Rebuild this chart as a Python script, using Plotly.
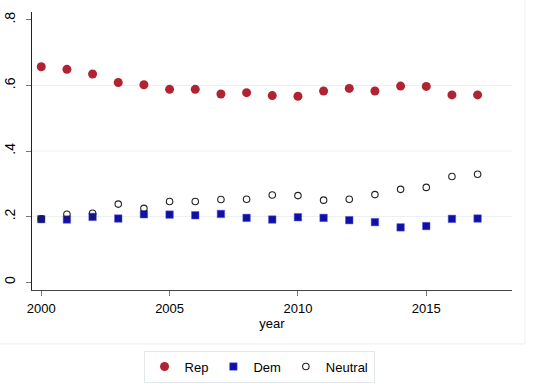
import plotly.graph_objects as go

years = list(range(2000, 2018))
rep = [0.657, 0.649, 0.635, 0.609, 0.602, 0.588, 0.588, 0.574, 0.578,
       0.569, 0.567, 0.583, 0.591, 0.583, 0.598, 0.597, 0.571, 0.571]
dem = [0.192, 0.191, 0.199, 0.194, 0.207, 0.206, 0.204, 0.208, 0.196,
       0.191, 0.198, 0.196, 0.189, 0.183, 0.167, 0.171, 0.193, 0.194]
neutral = [0.193, 0.207, 0.210, 0.238, 0.225, 0.246, 0.246, 0.252, 0.253,
           0.266, 0.264, 0.250, 0.253, 0.267, 0.283, 0.289, 0.322, 0.329]

y_ticks = [0, 0.2, 0.4, 0.6, 0.8]
y_labels = ["0", ".2", ".4", ".6", ".8"]
x_ticks = [2000, 2005, 2010, 2015]
grid_vals = [0.2, 0.4, 0.6]

FONT = "Liberation Sans, Arial, Helvetica, sans-serif"

fig = go.Figure()
fig.add_trace(go.Scatter(x=years, y=rep, mode="markers", name="Rep",
                         marker=dict(symbol="circle", size=9, color="#B02432",
                                     line=dict(width=0))))
fig.add_trace(go.Scatter(x=years, y=dem, mode="markers", name="Dem",
                         marker=dict(symbol="square", size=7.5, color="#1010A8",
                                     line=dict(width=0.5, color="#5A5AD0"))))
fig.add_trace(go.Scatter(x=years, y=neutral, mode="markers", name="Neutral",
                         marker=dict(symbol="circle-open", size=6.5, color="#222222",
                                     line=dict(width=1.1, color="#222222"))))

shapes = []
for g in grid_vals:
    shapes.append(dict(type="line", xref="paper", yref="y", x0=0, x1=1, y0=g, y1=g,
                       line=dict(color="#EAF1F2", width=1), layer="below"))
# outer frame lines
shapes.append(dict(type="line", xref="paper", yref="paper", x0=1.027, x1=1.027,
                   y0=-0.194, y1=1.05, line=dict(color="#EBEFF0", width=1)))
shapes.append(dict(type="line", xref="paper", yref="paper", x0=-0.07, x1=1.027,
                   y0=-0.194, y1=-0.194, line=dict(color="#EBEFF0", width=1)))

fig.update_layout(
    width=533, height=384,
    margin=dict(l=32, r=21, t=12, b=94, autoexpand=False),
    paper_bgcolor="white", plot_bgcolor="white",
    font=dict(family=FONT, size=13, color="black"),
    showlegend=True,
    legend=dict(orientation="h", x=0.473, xanchor="center", y=-0.218, yanchor="top",
                bordercolor="#E3E9EA", borderwidth=1, font=dict(size=13),
                itemwidth=30, tracegroupgap=0),
    shapes=shapes,
    xaxis=dict(range=[1999.64, 2018.34], tickvals=x_ticks, showgrid=False,
               zeroline=False, showline=True, linecolor="#444444", linewidth=1,
               ticks="outside", ticklen=5, tickcolor="#777777", automargin=False,
               ticklabelstandoff=1,
               title=dict(text="year", standoff=3, font=dict(size=13))),
    yaxis=dict(range=[-0.024, 0.824], tickvals=y_ticks, ticktext=y_labels,
               tickangle=-90, showgrid=False, zeroline=False, showline=True,
               linecolor="#222222", linewidth=1, ticks="outside", ticklen=5,
               tickcolor="#777777", automargin=False, tickfont=dict(size=14),
               ticklabelstandoff=5),
)

fig.write_html("out.html", config={"displayModeBar": False},
               post_script="document.body.style.margin='0';document.body.style.overflow='hidden';")
